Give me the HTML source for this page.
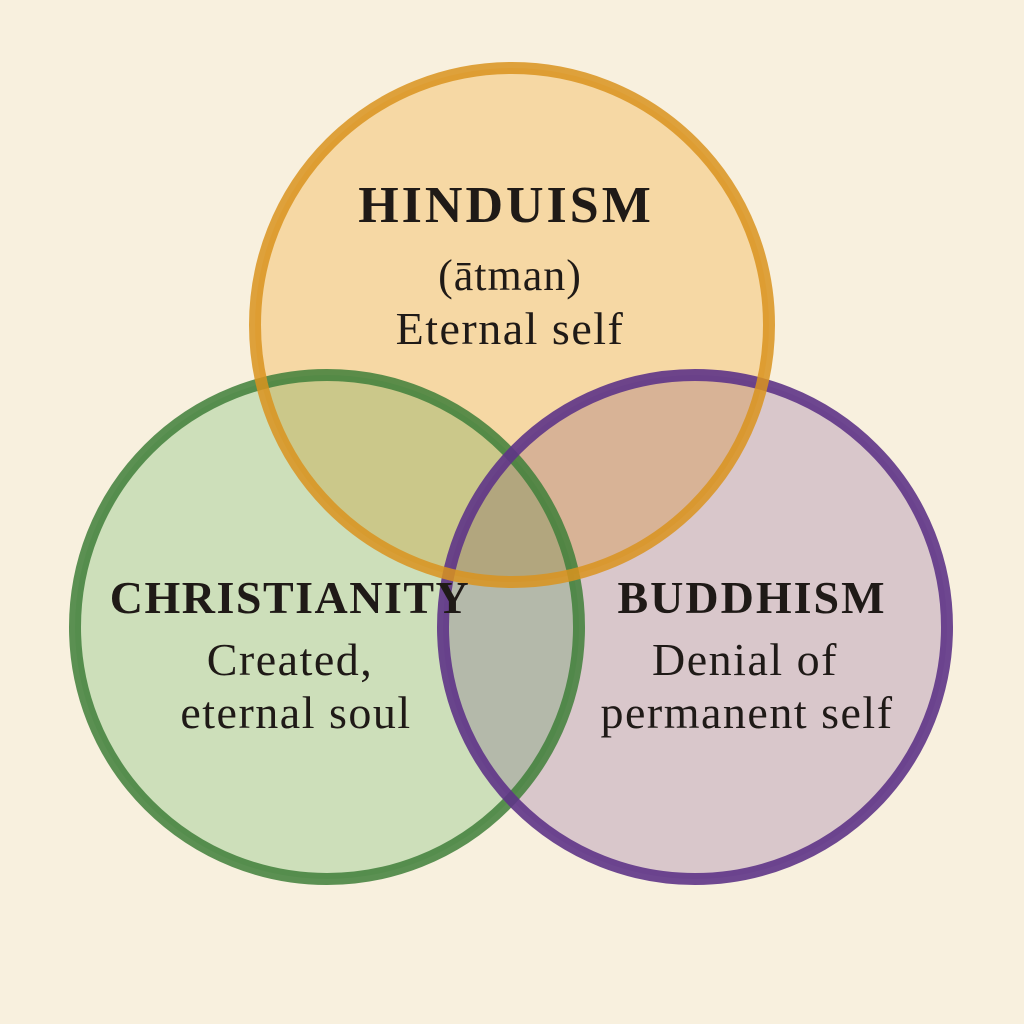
<!DOCTYPE html>
<html><head><meta charset="utf-8"><style>
html,body{margin:0;padding:0;background:#f8f0de;}
svg{display:block}
text{font-family:"Liberation Serif","DejaVu Serif",serif;fill:#1f1a17;text-anchor:middle}
.f{mix-blend-mode:multiply}
</style></head><body>
<svg width="1024" height="1024" viewBox="0 0 1024 1024">
<rect width="1024" height="1024" fill="#f8f0de"/>
<g>
<circle class="f" cx="512" cy="325" r="257" fill="#fde6bd"/>
<circle class="f" cx="327" cy="627" r="252" fill="#d3edd6"/>
<circle class="f" cx="695" cy="627" r="252" fill="#e0d4e9"/>
<circle cx="327" cy="627" r="252" fill="none" stroke="#3f7f3a" stroke-width="12" stroke-opacity="0.85"/>
<circle cx="695" cy="627" r="252" fill="none" stroke="#5e3487" stroke-width="12" stroke-opacity="0.9"/>
<circle cx="512" cy="325" r="257" fill="none" stroke="#d9931f" stroke-width="12" stroke-opacity="0.85"/>
</g>
<text x="506" y="222" font-size="52" font-weight="bold" letter-spacing="3">HINDUISM</text>
<text x="510" y="290" font-size="44" letter-spacing="1">(ātman)</text>
<text x="510" y="344" font-size="46" letter-spacing="1.5">Eternal self</text>
<text x="290" y="613" font-size="46" font-weight="bold" letter-spacing="1.5">CHRISTIANITY</text>
<text x="290" y="675" font-size="46" letter-spacing="1.5">Created,</text>
<text x="296" y="728" font-size="46" letter-spacing="1.5">eternal soul</text>
<text x="752" y="613" font-size="46" font-weight="bold" letter-spacing="2">BUDDHISM</text>
<text x="745" y="675" font-size="46" letter-spacing="1.5">Denial of</text>
<text x="747" y="728" font-size="46" letter-spacing="1.5">permanent self</text>
</svg>
</body></html>
